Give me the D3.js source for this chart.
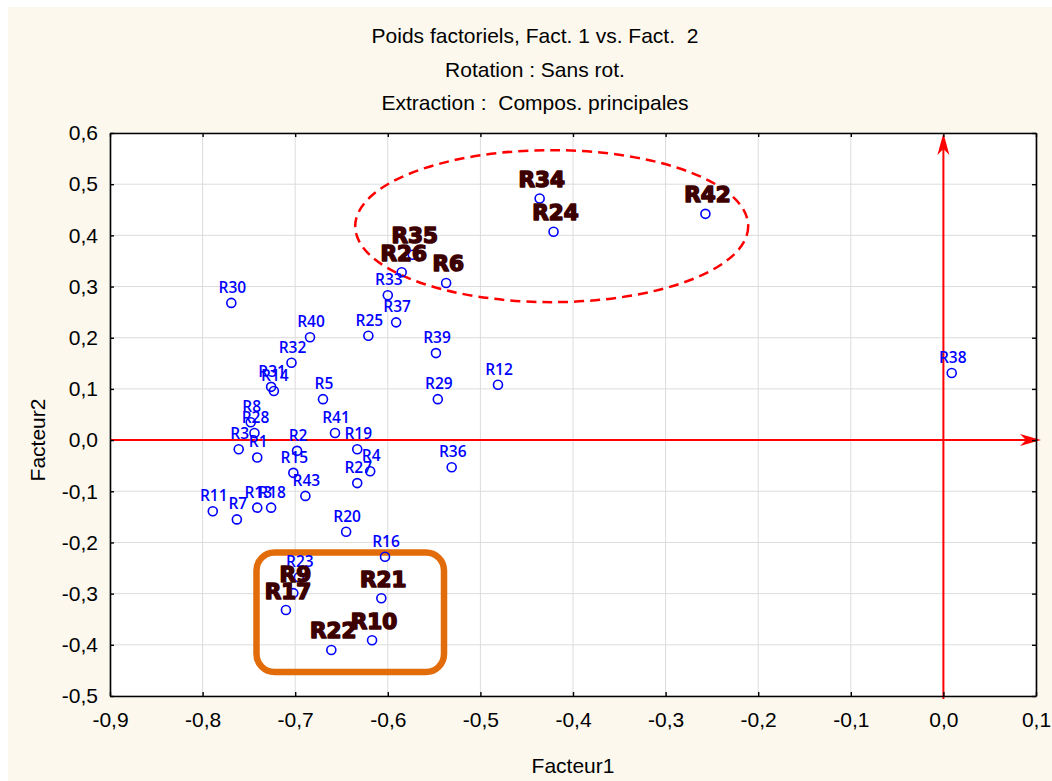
<!DOCTYPE html>
<html>
<head>
<meta charset="utf-8">
<script src="https://cdn.jsdelivr.net/npm/d3@7"></script>
<style>
  html, body { margin: 0; padding: 0; background: #ffffff; }
  svg { display: block; }
  text { white-space: pre; }
</style>
</head>
<body>
<svg id="chart" width="1052" height="781"></svg>
<script>
// ---------- data ----------
const names = ["R1","R2","R3","R4","R5","R6","R7","R8","R9","R10","R11","R12","R13","R14","R15","R16","R17","R18","R19","R20","R21","R22","R23","R24","R25","R26","R27","R28","R29","R30","R31","R32","R33","R34","R35","R36","R37","R38","R39","R40","R41","R42","R43"];
const fact1 = [-0.741,-0.698,-0.761,-0.619,-0.670,-0.537,-0.763,-0.748,-0.702,-0.617,-0.789,-0.481,-0.741,-0.723,-0.702,-0.603,-0.710,-0.726,-0.633,-0.645,-0.607,-0.661,-0.696,-0.421,-0.621,-0.585,-0.633,-0.744,-0.546,-0.769,-0.726,-0.704,-0.600,-0.436,-0.573,-0.531,-0.591,0.009,-0.548,-0.684,-0.657,-0.257,-0.689];
const fact2 = [-0.034,-0.021,-0.018,-0.061,0.080,0.307,-0.155,0.035,-0.299,-0.391,-0.139,0.108,-0.132,0.096,-0.064,-0.228,-0.332,-0.132,-0.018,-0.179,-0.309,-0.410,-0.268,0.407,0.204,0.328,-0.084,0.014,0.080,0.268,0.104,0.151,0.283,0.472,0.362,-0.053,0.230,0.131,0.170,0.201,0.014,0.442,-0.109];
const highlighted = ["R34","R24","R42","R35","R26","R6","R9","R17","R21","R10","R22"];
const xTicks = [-0.9,-0.8,-0.7,-0.6,-0.5,-0.4,-0.3,-0.2,-0.1,0.0,0.1];
const yTicks = [-0.5,-0.4,-0.3,-0.2,-0.1,0.0,0.1,0.2,0.3,0.4,0.5,0.6];
const titleLines = ["Poids factoriels, Fact. 1 vs. Fact.  2", "Rotation : Sans rot.", "Extraction :  Compos. principales"];
const xTitle = "Facteur1";
const yTitle = "Facteur2";
// annotation shapes in data units
const ellipseCenter = [-0.423, 0.418];
const ellipseRadii = [0.2122, 0.1485];
const boxX = [-0.7418, -0.5393];
const boxY = [-0.2197, -0.4532];

// ---------- layout ----------
const svg = d3.select("#chart");
const L = 110, R = 1036, T = 133, B = 696;
const x = d3.scaleLinear().domain([-0.9, 0.1]).range([L, R]);
const y = d3.scaleLinear().domain([-0.5, 0.6]).range([B, T]);
const fmt = v => (Math.abs(v) < 1e-9 ? "0,0" : v.toFixed(1).replace(".", ","));
const FONT = "'Liberation Sans', Arial, sans-serif";

svg.append("rect").attr("x", 8).attr("y", 7).attr("width", 1044).attr("height", 774).attr("fill", "#fcf8ee");
svg.append("rect").attr("x", L).attr("y", T).attr("width", R - L).attr("height", B - T).attr("fill", "#ffffff");

// grid
const grid = svg.append("g").attr("stroke", "#dcdcdc").attr("stroke-width", 1);
grid.selectAll("line.gx").data(xTicks).join("line").attr("class","gx")
  .attr("x1", d => x(d)).attr("x2", d => x(d)).attr("y1", T).attr("y2", B);
grid.selectAll("line.gy").data(yTicks).join("line").attr("class","gy")
  .attr("y1", d => y(d)).attr("y2", d => y(d)).attr("x1", L).attr("x2", R);

// red reference arrows
const red = "#ff0000";
const hx0 = x(-0.9), hy = y(0), htip = x(0.1) + 5;
svg.append("line").attr("x1", hx0).attr("x2", htip - 10).attr("y1", hy).attr("y2", hy)
  .attr("stroke", red).attr("stroke-width", 2);
svg.append("path").attr("fill", red)
  .attr("d", `M${htip},${hy} L${htip-21},${hy-6} L${htip-15},${hy} L${htip-21},${hy+6} Z`);
const vx = x(0), vtip = y(0.6), vy0 = y(-0.5) + 3;
svg.append("line").attr("x1", vx).attr("x2", vx).attr("y1", vy0).attr("y2", vtip + 10)
  .attr("stroke", red).attr("stroke-width", 2);
svg.append("path").attr("fill", red)
  .attr("d", `M${vx},${vtip} L${vx-6},${vtip+22} L${vx},${vtip+16} L${vx+6},${vtip+22} Z`);

// dashed ellipse
svg.append("ellipse")
  .attr("cx", x(ellipseCenter[0])).attr("cy", y(ellipseCenter[1]))
  .attr("rx", x(ellipseCenter[0] + ellipseRadii[0]) - x(ellipseCenter[0]))
  .attr("ry", y(ellipseCenter[1] - ellipseRadii[1]) - y(ellipseCenter[1]))
  .attr("fill", "none").attr("stroke", red).attr("stroke-width", 2.5).attr("stroke-dasharray", "10,6");

// orange rounded box
svg.append("rect")
  .attr("x", x(boxX[0])).attr("y", y(boxY[0]))
  .attr("width", x(boxX[1]) - x(boxX[0])).attr("height", y(boxY[1]) - y(boxY[0]))
  .attr("rx", 18).attr("ry", 18)
  .attr("fill", "none").attr("stroke", "#e36c0a").attr("stroke-width", 6.5);

// points
const pts = names.map((n, i) => ({ name: n, x: fact1[i], y: fact2[i], hi: highlighted.includes(n) }));
svg.append("g").selectAll("circle").data(pts).join("circle")
  .attr("cx", d => x(d.x)).attr("cy", d => y(d.y)).attr("r", 4.5)
  .attr("fill", "none").attr("stroke", "#0000ff").attr("stroke-width", 1.6);

// blue labels
svg.append("g").selectAll("text").data(pts.filter(d => !d.hi)).join("text")
  .attr("x", d => x(d.x) + 1).attr("y", d => y(d.y) - 10)
  .attr("text-anchor", "middle")
  .attr("font-family", "'Open Sans', 'Noto Sans', sans-serif").attr("font-weight", 600).attr("font-size", 15.5)
  .attr("fill", "#0000ff").text(d => d.name);

// highlighted labels
svg.append("g").selectAll("text").data(pts.filter(d => d.hi)).join("text")
  .attr("x", d => x(d.x) + 2).attr("y", d => y(d.y) - 11.5)
  .attr("text-anchor", "middle")
  .attr("font-family", "'DejaVu Sans', sans-serif").attr("font-weight", 700).attr("font-size", 21.5)
  .attr("fill", "#3d0000").attr("stroke", "#3d0000").attr("stroke-width", 1.6)
  .attr("stroke-linejoin", "round")
  .text(d => d.name);

// axes
const axisStyle = g => {
  g.select(".domain").attr("stroke", "#000").attr("stroke-width", 1.6);
  g.selectAll(".tick line").attr("stroke", "#000").attr("stroke-width", 1.4);
  g.selectAll(".tick text").attr("font-family", FONT).attr("font-size", 21).attr("fill", "#000");
};
svg.append("g").attr("transform", `translate(0,${B})`)
  .call(d3.axisBottom(x).tickValues(xTicks).tickFormat(fmt).tickSize(-4).tickSizeOuter(0).tickPadding(16))
  .call(axisStyle);
svg.append("g").attr("transform", `translate(${L},0)`)
  .call(d3.axisLeft(y).tickValues(yTicks).tickFormat(fmt).tickSize(-4).tickSizeOuter(0).tickPadding(12))
  .call(axisStyle);
svg.append("g").attr("transform", `translate(0,${T})`)
  .call(d3.axisTop(x).tickValues(xTicks).tickFormat("").tickSize(-4).tickSizeOuter(0))
  .call(axisStyle);
svg.append("g").attr("transform", `translate(${R},0)`)
  .call(d3.axisRight(y).tickValues(yTicks).tickFormat("").tickSize(-4).tickSizeOuter(0))
  .call(axisStyle);

// titles
svg.append("g").selectAll("text").data(titleLines).join("text")
  .attr("x", 535).attr("y", (d, i) => 43 + i * 33.5)
  .attr("text-anchor", "middle").attr("font-family", FONT).attr("font-size", 21).attr("fill", "#000")
  .attr("xml:space", "preserve")
  .text(d => d);
svg.append("text").attr("x", (L + R) / 2).attr("y", 773)
  .attr("text-anchor", "middle").attr("font-family", FONT).attr("font-size", 21).attr("fill", "#000")
  .text(xTitle);
svg.append("text").attr("transform", "translate(45,440) rotate(-90)")
  .attr("text-anchor", "middle").attr("font-family", FONT).attr("font-size", 21).attr("fill", "#000")
  .text(yTitle);
</script>
</body>
</html>
